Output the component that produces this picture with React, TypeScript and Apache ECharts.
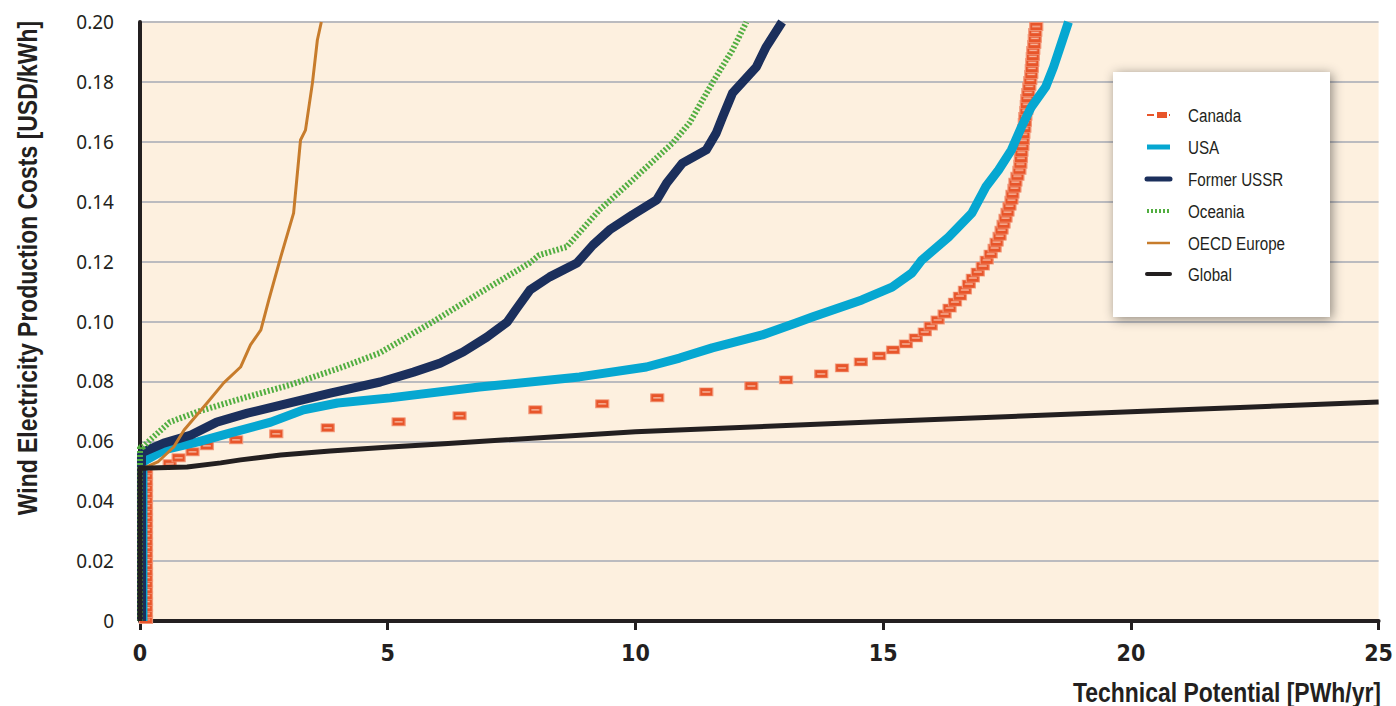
import React, { useEffect, useRef } from "react";
import * as echarts from "echarts";

const seriesNames = ["Canada", "USA", "Former USSR", "Oceania", "OECD Europe", "Global"];
const xTicks = [0, 5, 10, 15, 20, 25];
const yTickStep = 0.02;

const canadaData: [number, number][] = [
  [0.12, 0.0005], [0.12, 0.0025], [0.12, 0.0045], [0.12, 0.0065], [0.12, 0.0085], [0.12, 0.0105],
  [0.12, 0.0125], [0.12, 0.0145], [0.12, 0.0165], [0.12, 0.0185], [0.12, 0.0205], [0.12, 0.0225],
  [0.12, 0.0245], [0.12, 0.0265], [0.12, 0.0285], [0.12, 0.0305], [0.12, 0.0325], [0.12, 0.0345],
  [0.12, 0.0365], [0.12, 0.0385], [0.12, 0.0405], [0.12, 0.0425], [0.12, 0.0445], [0.12, 0.0465],
  [0.12, 0.0485], [0.12, 0.0505],
  [0.6, 0.0525], [0.78, 0.0545], [1.06, 0.0565], [1.35, 0.0585], [1.94, 0.0605], [2.75, 0.0625],
  [3.79, 0.0645], [5.22, 0.0665], [6.45, 0.0685], [7.98, 0.0705], [9.33, 0.0725], [10.44, 0.0745],
  [11.43, 0.0765], [12.34, 0.0785], [13.04, 0.0805], [13.75, 0.0825], [14.17, 0.0845], [14.55, 0.0865],
  [14.92, 0.0885], [15.2, 0.0905], [15.46, 0.0925], [15.66, 0.0945], [15.84, 0.0965], [15.96, 0.0985],
  [16.1, 0.1005], [16.24, 0.1025], [16.34, 0.1045], [16.45, 0.1065], [16.55, 0.1085], [16.65, 0.1105],
  [16.73, 0.1125], [16.81, 0.1145], [16.91, 0.1165], [17.01, 0.1185], [17.09, 0.1205], [17.17, 0.1225],
  [17.25, 0.1245], [17.29, 0.1265], [17.35, 0.1285], [17.39, 0.1305], [17.43, 0.1325], [17.47, 0.1345],
  [17.51, 0.1365], [17.55, 0.1385], [17.59, 0.1405], [17.61, 0.1425], [17.65, 0.1445], [17.67, 0.1465],
  [17.71, 0.1485], [17.75, 0.1505], [17.77, 0.1525], [17.78, 0.1545], [17.79, 0.1565], [17.81, 0.1585],
  [17.82, 0.1605], [17.83, 0.1625], [17.85, 0.1645], [17.86, 0.1665], [17.87, 0.1685], [17.89, 0.1705],
  [17.9, 0.1725], [17.91, 0.1745], [17.93, 0.1765], [17.95, 0.1785], [17.97, 0.1805], [17.99, 0.1825],
  [18.0, 0.1845], [18.01, 0.1865], [18.02, 0.1885], [18.03, 0.1905], [18.05, 0.1925], [18.06, 0.1945],
  [18.07, 0.1965], [18.09, 0.1985],
];

const usaData: [number, number][] = [
  [0.06, 0], [0.06, 0.0531], [0.48, 0.0571], [1.17, 0.0598], [1.83, 0.0628], [2.64, 0.0664],
  [3.3, 0.0705], [3.99, 0.0728], [5.05, 0.0745], [6.85, 0.0781], [8.87, 0.0815], [10.22, 0.0848],
  [10.89, 0.0878], [11.55, 0.0912], [12.56, 0.0955], [13.24, 0.0995], [13.57, 0.1015], [14.57, 0.1072],
  [15.18, 0.1115], [15.58, 0.1162], [15.78, 0.1205], [16.32, 0.1282], [16.79, 0.1362], [17.07, 0.1449],
  [17.33, 0.1506], [17.59, 0.1573], [17.79, 0.1649], [17.99, 0.1716], [18.28, 0.1783], [18.44, 0.185],
  [18.6, 0.193], [18.74, 0.2],
];

const ussrData: [number, number][] = [
  [0.03, 0], [0.03, 0.0555], [0.06, 0.0564], [0.48, 0.0594], [1.03, 0.0621], [1.55, 0.0664],
  [2.17, 0.0694], [2.84, 0.0721], [3.84, 0.0761], [4.85, 0.0798], [5.52, 0.0831], [6.06, 0.0861],
  [6.52, 0.0898], [7.0, 0.0948], [7.41, 0.0998], [7.61, 0.1045], [7.87, 0.1105], [8.27, 0.1149],
  [8.82, 0.1195], [9.14, 0.1255], [9.48, 0.1306], [9.94, 0.1356], [10.43, 0.1406], [10.63, 0.1462],
  [10.95, 0.1529], [11.43, 0.1573], [11.63, 0.1629], [11.76, 0.1683], [11.96, 0.1763], [12.44, 0.185],
  [12.64, 0.1917], [12.96, 0.2],
];

const oceaniaData: [number, number][] = [
  [0, 0], [0, 0.058], [0.06, 0.0581], [0.2, 0.0604], [0.6, 0.0664], [1.15, 0.0698], [1.95, 0.0738],
  [3.02, 0.0788], [4.09, 0.0848], [4.84, 0.0895], [5.9, 0.0998], [6.85, 0.1095], [7.86, 0.1195],
  [8.06, 0.1222], [8.61, 0.1249], [9.27, 0.1372], [9.94, 0.1472], [10.75, 0.1596], [11.09, 0.1663],
  [11.55, 0.1796], [11.96, 0.1907], [12.24, 0.2],
];

const oecdData: [number, number][] = [
  [0, 0.0505], [0.04, 0.0508], [0.36, 0.0531], [0.68, 0.0581], [0.89, 0.0638], [1.37, 0.0731],
  [1.69, 0.0795], [2.03, 0.0848], [2.23, 0.0922], [2.44, 0.0972], [2.6, 0.1072], [2.84, 0.1215],
  [3.1, 0.1362], [3.24, 0.1606], [3.34, 0.1639], [3.48, 0.1796], [3.58, 0.194], [3.66, 0.2],
];

const globalData: [number, number][] = [
  [0, 0], [0, 0.051], [0.95, 0.0514], [1.63, 0.0528], [2.03, 0.0538], [2.84, 0.0554], [3.84, 0.0568],
  [5.05, 0.0581], [6.06, 0.0591], [10, 0.0632], [15, 0.0666], [20, 0.0699], [25, 0.0731],
];

const colors = {
  canada: "#E8552A",
  usa: "#06A7D1",
  ussr: "#1B2F5C",
  oceania: "#52AE41",
  oecd: "#C77C2C",
  global: "#231F20",
};

const NARROW = '"DejaVu Sans Condensed", "Liberation Sans", sans-serif';
const canadaSymbol = "path://M0 0H13V8H0Z M3 3.5V4.5H10V3.5Z";

function legendItems() {
  const els: any[] = [];
  const x0 = 1147;
  const x1 = 1170;
  const ys = [115, 147, 179, 211, 243, 274];
  const lineStyles: any[] = [
    null,
    { stroke: colors.usa, lineWidth: 5 },
    { stroke: colors.ussr, lineWidth: 5, lineCap: "round" },
    { stroke: colors.oceania, lineWidth: 4, lineDash: [2, 2] },
    { stroke: colors.oecd, lineWidth: 2.5 },
    { stroke: colors.global, lineWidth: 4, lineCap: "round" },
  ];
  seriesNames.forEach((name, i) => {
    const y = ys[i];
    if (i === 0) {
      els.push({ type: "line", z: 11, shape: { x1: x0, y1: y, x2: x0 + 7, y2: y }, style: { stroke: colors.canada, lineWidth: 2 } });
      els.push({ type: "rect", z: 11, shape: { x: x0 + 10, y: y - 3, width: 10, height: 6 }, style: { fill: colors.canada } });
      els.push({ type: "line", z: 11, shape: { x1: x0 + 22, y1: y, x2: x1, y2: y }, style: { stroke: colors.canada, lineWidth: 2 } });
    } else {
      els.push({ type: "line", z: 11, shape: { x1: x0, y1: y, x2: x1, y2: y }, style: lineStyles[i] });
    }
    els.push({
      type: "text",
      z: 11,
      x: 1188,
      y: y,
      scaleX: 0.8,
      style: {
        text: name,
        font: '19px "Liberation Sans", Arial, sans-serif',
        fill: "#231F20",
        textAlign: "left",
        textVerticalAlign: "middle",
      },
    });
  });
  return els;
}

export default function App() {
  const ref = useRef<HTMLDivElement>(null);
  useEffect(() => {
    document.body.style.margin = "0";
    const chart = echarts.init(ref.current!, null, { renderer: "svg" });
    const option: any = {
      animation: false,
      backgroundColor: "#ffffff",
      grid: {
        left: 140,
        right: 16,
        top: 22,
        bottom: 85,
        show: true,
        backgroundColor: "#FDF0DF",
        borderWidth: 0,
        containLabel: false,
      },
      xAxis: {
        type: "value",
        min: xTicks[0],
        max: xTicks[xTicks.length - 1],
        interval: 5,
        axisLine: { show: true, onZero: false, lineStyle: { color: "#231F20", width: 4 } },
        axisTick: { show: true, inside: false, length: 9, lineStyle: { color: "#231F20", width: 3 } },
        splitLine: { show: false },
        axisLabel: {
          margin: 20,
          color: "#231F20",
          fontFamily: NARROW,
          fontWeight: "bold",
          fontSize: 23,
        },
      },
      yAxis: {
        type: "value",
        min: 0,
        max: 0.2,
        interval: yTickStep,
        axisLine: { show: true, onZero: false, lineStyle: { color: "#231F20", width: 4 } },
        axisTick: { show: false },
        splitLine: { show: true, lineStyle: { color: "#BBBBBF", width: 2 } },
        axisLabel: {
          margin: 26,
          color: "#231F20",
          fontFamily: '"Noto Sans", sans-serif',
          fontSize: 19,
          formatter: (v: number) => (v === 0 ? "0" : v.toFixed(2)),
        },
      },
      graphic: [
        {
          type: "rect",
          z: 10,
          shape: { x: 1113, y: 72, width: 217, height: 245 },
          style: {
            fill: "#ffffff",
            shadowBlur: 12,
            shadowColor: "rgba(0,0,0,0.45)",
            shadowOffsetX: 2,
            shadowOffsetY: 2,
          },
        },
        ...legendItems(),
        {
          type: "text",
          x: 27,
          y: 268,
          rotation: Math.PI / 2,
          scaleX: 0.85,
          style: {
            text: "Wind Electricity Production Costs [USD/kWh]",
            font: 'bold 27px "Liberation Sans", Arial, sans-serif',
            fill: "#231F20",
            textAlign: "center",
            textVerticalAlign: "middle",
          },
        },
        {
          type: "text",
          x: 1381,
          y: 692,
          scaleX: 0.85,
          style: {
            text: "Technical Potential [PWh/yr]",
            font: 'bold 27px "Liberation Sans", Arial, sans-serif',
            fill: "#231F20",
            textAlign: "right",
            textVerticalAlign: "middle",
          },
        },
      ],
      series: [
        {
          name: seriesNames[0],
          type: "line",
          data: canadaData,
          symbol: canadaSymbol,
          symbolSize: [13, 8],
          showSymbol: true,
          itemStyle: { color: colors.canada, borderColor: "rgba(242,150,120,0.9)", borderWidth: 1 },
          lineStyle: { opacity: 0, width: 0, color: colors.canada },
          z: 2,
        },
        {
          name: seriesNames[1],
          type: "line",
          data: usaData,
          symbol: "none",
          lineStyle: { color: colors.usa, width: 9, join: "round" },
          z: 3,
        },
        {
          name: seriesNames[2],
          type: "line",
          data: ussrData,
          symbol: "none",
          lineStyle: { color: colors.ussr, width: 9, join: "round" },
          z: 3,
        },
        {
          name: seriesNames[3],
          type: "line",
          data: oceaniaData,
          symbol: "none",
          lineStyle: { color: colors.oceania, width: 6, type: [2, 2], cap: "butt" },
          z: 3,
        },
        {
          name: seriesNames[4],
          type: "line",
          data: oecdData,
          symbol: "none",
          lineStyle: { color: colors.oecd, width: 3, join: "round" },
          z: 3,
        },
        {
          name: seriesNames[5],
          type: "line",
          data: globalData,
          symbol: "none",
          lineStyle: { color: colors.global, width: 5, join: "round" },
          z: 3,
        },
      ],
    };
    chart.setOption(option);
    return () => chart.dispose();
  }, []);
  return <div ref={ref} style={{ width: 1396, height: 706 }} />;
}
